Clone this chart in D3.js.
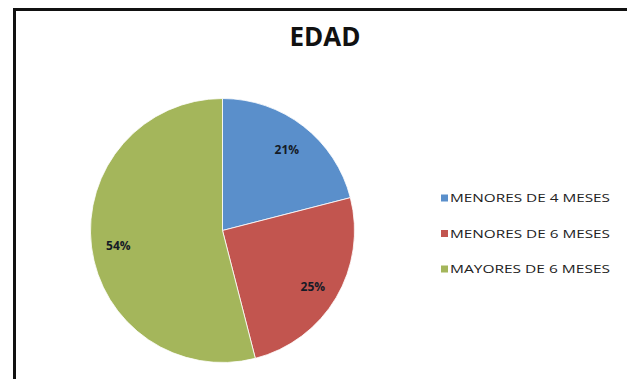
<!DOCTYPE html>
<html>
<head>
<meta charset="utf-8">
<script src="https://cdn.jsdelivr.net/npm/d3@7"></script>
<style>
html,body{margin:0;padding:0;background:#fff;}
svg{display:block;}
</style>
</head>
<body>
<svg id="chart" width="627" height="379"></svg>
<script>
const categories = ["MENORES DE 4 MESES", "MENORES DE 6 MESES", "MAYORES DE 6 MESES"];
const values = [21, 25, 54];
const labels = ["21%", "25%", "54%"];
const colors = ["#5A8FCB", "#C2554F", "#A4B65B"];
const title = "EDAD";

const svg = d3.select("#chart");
const W = 627, H = 379;

svg.append("rect").attr("x", 0).attr("y", 0).attr("width", W).attr("height", H).attr("fill", "#fff");

// outer frame (extends past right and bottom edges)
svg.append("rect")
  .attr("x", 14.5).attr("y", 9.5)
  .attr("width", W + 20).attr("height", H + 20)
  .attr("fill", "none").attr("stroke", "#111").attr("stroke-width", 3);

svg.append("text")
  .attr("x", 325).attr("y", 46)
  .attr("text-anchor", "middle")
  .attr("font-family", "'Open Sans', sans-serif")
  .attr("font-weight", "bold")
  .attr("font-size", 26)
  .attr("fill", "#111")
  .text(title);

const cx = 222.5, cy = 230.5, R = 132;
const data = categories.map((c, i) => ({ cat: c, value: values[i], label: labels[i], color: colors[i] }));
const pie = d3.pie().sort(null).value(d => d.value);
const arc = d3.arc().innerRadius(0).outerRadius(R);
const labelArc = d3.arc().innerRadius(105).outerRadius(105);

const g = svg.append("g").attr("transform", `translate(${cx},${cy})`);
const arcs = pie(data);
g.selectAll("path.slice").data(arcs).enter().append("path")
  .attr("class", "slice")
  .attr("d", arc)
  .attr("fill", d => d.data.color)
  .attr("stroke", "#fff")
  .attr("stroke-width", 0.8);

g.selectAll("text.lbl").data(arcs).enter().append("text")
  .attr("class", "lbl")
  .attr("transform", d => `translate(${labelArc.centroid(d)})`)
  .attr("text-anchor", "middle")
  .attr("dy", "0.55em")
  .attr("font-family", "'Open Sans', sans-serif")
  .attr("font-weight", "bold")
  .attr("font-size", 12)
  .attr("fill", "#151b26")
  .text(d => d.data.label);

const legend = svg.append("g");
const rowY = d3.scalePoint().domain(categories).range([198, 269]);
const rows = legend.selectAll("g.row").data(data).enter().append("g")
  .attr("class", "row")
  .attr("transform", d => `translate(441,${rowY(d.cat)})`);
rows.append("rect")
  .attr("x", 0).attr("y", -3.5).attr("width", 7).attr("height", 7)
  .attr("fill", d => d.color);
rows.append("text")
  .attr("x", 9).attr("y", 0).attr("dy", "0.36em")
  .attr("font-family", "'Open Sans', sans-serif")
  .attr("font-size", 11.5)
  .attr("fill", "#222")
  .attr("textLength", 160)
  .attr("lengthAdjust", "spacingAndGlyphs")
  .text(d => d.cat);
</script>
</body>
</html>
